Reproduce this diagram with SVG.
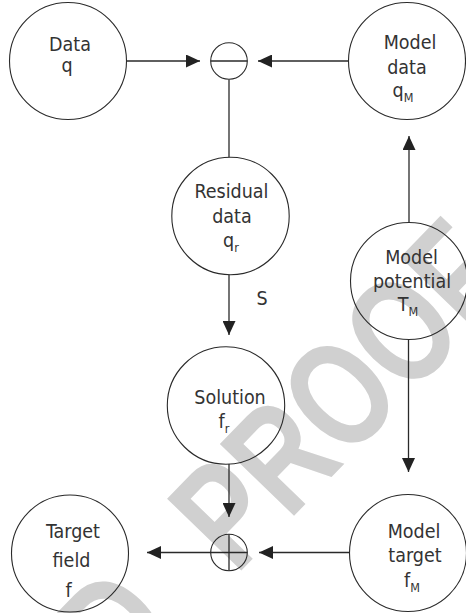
<svg xmlns="http://www.w3.org/2000/svg" width="466" height="613" viewBox="0 0 466 613">
<style>
.node circle{fill:none;stroke:#2a2a2a;stroke-width:1.1}
.node line{stroke:#2a2a2a;stroke-width:1.3}
.lbl{font-family:"DejaVu Sans Condensed","DejaVu Sans",sans-serif;font-stretch:condensed;font-size:19.5px;fill:#333;text-anchor:middle}
.sub{font-size:12.5px}
.conn line{stroke:#2a2a2a;stroke-width:1.3}
.wm{font-family:"Liberation Sans",Arial,sans-serif;font-weight:bold;font-size:150px;fill:#d0d0d0}
</style>
<defs>
<marker id="ah" viewBox="0 0 14 13" refX="14" refY="6.5" markerWidth="14" markerHeight="13" markerUnits="userSpaceOnUse" orient="auto">
<path d="M0,0 L14,6.5 L0,13 Z" fill="#222"/>
</marker>
</defs>
<rect width="466" height="613" fill="#fff"/>
<text class="wm" transform="translate(236,576) rotate(-46) scale(0.76,1)"><tspan x="-212">D </tspan><tspan x="0">PROOF</tspan></text>

<g class="conn">
<line x1="127" y1="61" x2="200" y2="61" marker-end="url(#ah)"/>
<line x1="348" y1="61" x2="258" y2="61" marker-end="url(#ah)"/>
<line x1="229" y1="79.5" x2="229" y2="157"/>
<line x1="229" y1="275" x2="229" y2="335" marker-end="url(#ah)"/>
<line x1="229" y1="464" x2="229" y2="517" marker-end="url(#ah)"/>
<line x1="350" y1="552.5" x2="259" y2="552.5" marker-end="url(#ah)"/>
<line x1="211" y1="552.5" x2="147" y2="552.5" marker-end="url(#ah)"/>
<line x1="409" y1="222" x2="409" y2="136" marker-end="url(#ah)"/>
<line x1="408.5" y1="340" x2="408.5" y2="472" marker-end="url(#ah)"/>
</g>

<g id="data" class="node">
<circle cx="68" cy="61" r="58.5"/>
<text class="lbl" x="70" y="51">Data</text>
<text class="lbl" x="67" y="72">q</text>
</g>
<g id="minus" class="node">
<circle cx="229" cy="61" r="18.3"/>
<line x1="210.7" y1="61" x2="247.3" y2="61"/>
</g>
<g id="modeldata" class="node">
<circle cx="407" cy="61" r="58.5"/>
<text class="lbl" x="410" y="49">Model</text>
<text class="lbl" x="407" y="74">data</text>
<text class="lbl" x="403" y="97">q<tspan class="sub" dy="5">M</tspan></text>
</g>
<g id="residual" class="node">
<circle cx="230.5" cy="216" r="58.7"/>
<text class="lbl" x="231.5" y="198">Residual</text>
<text class="lbl" x="232" y="222.5">data</text>
<text class="lbl" x="231" y="247">q<tspan class="sub" dy="5">r</tspan></text>
</g>
<g id="s-label">
<text class="lbl" x="262" y="305">S</text>
</g>
<g id="potential" class="node">
<circle cx="409" cy="281" r="58.5"/>
<text class="lbl" x="411.5" y="264">Model</text>
<text class="lbl" x="412" y="287.5">potential</text>
<text class="lbl" x="408" y="311">T<tspan class="sub" dy="5">M</tspan></text>
</g>
<g id="solution" class="node">
<circle cx="226" cy="405.5" r="58.7"/>
<text class="lbl" x="230" y="404">Solution</text>
<text class="lbl" x="224" y="428">f<tspan class="sub" dy="5">r</tspan></text>
</g>
<g id="plus" class="node">
<circle cx="229" cy="552.5" r="18.3"/>
<line x1="210.7" y1="552.5" x2="247.3" y2="552.5"/>
<line x1="229" y1="534.2" x2="229" y2="570.8"/>
</g>
<g id="targetfield" class="node">
<circle cx="70" cy="553.5" r="58.5"/>
<text class="lbl" x="73" y="538">Target</text>
<text class="lbl" x="71.5" y="566.5">field</text>
<text class="lbl" x="68.5" y="596.5">f</text>
</g>
<g id="modeltarget" class="node">
<circle cx="408" cy="553" r="58.5"/>
<text class="lbl" x="414" y="538">Model</text>
<text class="lbl" x="415" y="561.5">target</text>
<text class="lbl" x="412" y="587">f<tspan class="sub" dy="5">M</tspan></text>
</g>
</svg>
